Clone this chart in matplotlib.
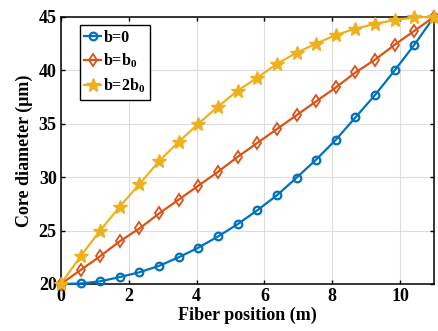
import numpy as np
import matplotlib
matplotlib.use("Agg")
import matplotlib.pyplot as plt

plt.rcParams["font.family"] = ["Liberation Serif", "DejaVu Serif"]
plt.rcParams["font.weight"] = "bold"
plt.rcParams["mathtext.fontset"] = "custom"
plt.rcParams["mathtext.rm"] = "Liberation Serif:bold"
plt.rcParams["mathtext.it"] = "Liberation Serif:bold"
plt.rcParams["mathtext.bf"] = "Liberation Serif:bold"

# fiber position (m), 20 samples from 0 to 11
position = np.linspace(0, 11, 20)

core_b0 = [20, 20.05, 20.25, 20.65, 21.1, 21.7, 22.5, 23.4, 24.45, 25.6,
           26.9, 28.3, 29.95, 31.65, 33.5, 35.6, 37.7, 40.0, 42.4, 45.0]
core_b1 = [20, 21.3, 22.6, 24.0, 25.2, 26.6, 27.9, 29.2, 30.5, 31.9,
           33.2, 34.5, 35.8, 37.1, 38.4, 39.8, 41.0, 42.4, 43.7, 45.0]
core_b2 = [20, 22.6, 25.0, 27.25, 29.35, 31.5, 33.3, 35.0, 36.6, 38.1,
           39.3, 40.6, 41.65, 42.5, 43.3, 43.9, 44.35, 44.7, 44.95, 45.0]

labels = ["b=0", "b=b$_0$", "b=2b$_0$"]
colors = ["#0072BD", "#D95319", "#EDB120"]

fig = plt.figure(figsize=(4.38, 3.31), dpi=100)
ax = fig.add_axes([0.139, 0.142, 0.852, 0.807])

ax.plot(position, core_b0, color=colors[0], lw=1.6, marker="o", ms=5.5,
        mfc="none", mew=1.6, label=labels[0], clip_on=False, zorder=3)
ax.plot(position, core_b1, color=colors[1], lw=1.6, marker="d", ms=6,
        mfc="none", mew=1.3, label=labels[1], clip_on=False, zorder=3)
ax.plot(position, core_b2, color=colors[2], lw=1.6, marker="*", ms=10,
        mfc=colors[2], mew=1.0, label=labels[2], clip_on=False, zorder=3)

ax.set_xlim(0, 11)
ax.set_ylim(20, 45)
ax.set_xticks(np.arange(0, 11, 2))
ax.set_yticks(np.arange(20, 46, 5))
ax.grid(True, color="#dcdcdc", lw=0.8)
ax.set_axisbelow(True)
ax.tick_params(direction="in", top=True, right=True, length=3, width=1,
               labelsize=13, pad=3)
for lab in ax.get_xticklabels() + ax.get_yticklabels():
    lab.set_fontweight("bold")
for s in ax.spines.values():
    s.set_linewidth(1.1)

ax.set_xlabel("Fiber position (m)", fontsize=13, fontweight="bold", labelpad=1)
ax.set_ylabel("Core diameter (\u03bcm)", fontsize=13, fontweight="bold", labelpad=4)

leg = ax.legend(loc="upper left", bbox_to_anchor=(0.05, 0.97), fancybox=False,
                edgecolor="black", framealpha=1, fontsize=11.5,
                handlelength=1.05, handletextpad=0.15, borderpad=0.3,
                labelspacing=0.4, borderaxespad=0)
leg.get_frame().set_linewidth(1.0)

fig.savefig("out.png", dpi=100)
